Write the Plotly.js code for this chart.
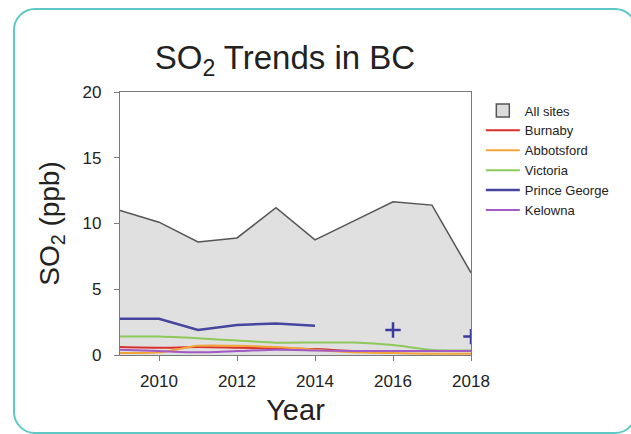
<!DOCTYPE html>
<html>
<head>
<meta charset="utf-8">
<script src="https://cdn.plot.ly/plotly-3.0.1.min.js"></script>
<style>
  html, body { margin: 0; padding: 0; background: #fff; }
  #wrap { position: relative; width: 631px; height: 434px; overflow: hidden; }
  #chart { position: absolute; left: 0; top: 0; width: 631px; height: 434px; }
  #frame { position: absolute; left: 13px; top: 8px; width: 620px; height: 422px;
           border: 2px solid #5ec8c5; border-radius: 22px; pointer-events: none; }
</style>
</head>
<body>
<div id="wrap">
  <div id="chart"></div>
  <div id="frame"></div>
</div>
<script>
const years = [2009, 2010, 2011, 2012, 2013, 2014, 2015, 2016, 2017, 2018];
const allSites = [11.0, 10.1, 8.6, 8.9, 11.2, 8.75, 10.2, 11.65, 11.4, 6.25];
const burnaby = [0.6, 0.55, 0.6, 0.55, 0.5, 0.45, 0.3, 0.3, 0.3, 0.3];
const abbotsford = [0.15, 0.2, 0.7, 0.7, 0.6, 0.4, 0.2, 0.15, 0.1, 0.1];
const victoria = [1.4, 1.4, 1.27, 1.1, 0.94, 0.95, 0.95, 0.76, 0.38, 0.35];
const princeGeorge = [2.76, 2.76, 1.9, 2.28, 2.4, 2.23, null, 1.9, null, 1.4];
const kelowna = [0.4, 0.3, 0.2, 0.3, 0.4, 0.35, 0.3, 0.3, 0.3, 0.3];
const xTicks = [2010, 2012, 2014, 2016, 2018];
const yTicks = [0, 5, 10, 15, 20];

// isolated Prince George points (no neighbours) are drawn as '+' markers
const pgIsoX = [], pgIsoY = [];
princeGeorge.forEach((v, i) => {
  if (v === null) return;
  const prev = i > 0 ? princeGeorge[i - 1] : null;
  const next = i < princeGeorge.length - 1 ? princeGeorge[i + 1] : null;
  if (prev === null && next === null) { pgIsoX.push(years[i]); pgIsoY.push(v); }
});

const line = (name, y, color, w, shape) => ({
  x: years, y: y, name: name, type: 'scatter', mode: 'lines',
  line: shape === 'linear' ? { color: color, width: w || 2 }
                           : { color: color, width: w || 2, shape: 'spline', smoothing: 0.6 },
  connectgaps: false, hoverinfo: 'x+y+name'
});

const FONT = 'Liberation Sans, Arial, Helvetica, sans-serif';

const traces = [
  { x: years, y: allSites, type: 'scatter', mode: 'lines', fill: 'tozeroy',
    fillcolor: '#e0e0e0', line: { color: '#555555', width: 1.5 }, showlegend: false, name: 'All sites' },
  { x: [null], y: [null], type: 'scatter', mode: 'markers', name: 'All sites',
    marker: { symbol: 'square', size: 13, color: '#dcdcdc', line: { color: '#555', width: 1.5 } } },
  line('Burnaby', burnaby, '#d9302c'),
  line('Abbotsford', abbotsford, '#f2a43a'),
  line('Victoria', victoria, '#8cc85a'),
  line('Prince George', princeGeorge, '#46469e', 2.5, 'linear'),
  line('Kelowna', kelowna, '#a25bc4'),
  { x: pgIsoX, y: pgIsoY, type: 'scatter', mode: 'markers', showlegend: false, name: 'Prince George',
    marker: { symbol: 'cross-thin', size: 11, line: { color: '#3a3aa0', width: 2.5 } } }
];

const axisCommon = {
  showgrid: false, zeroline: false, showline: true, mirror: true,
  linecolor: '#7a7a7a', linewidth: 1.2, ticks: 'outside', ticklen: 5,
  tickcolor: '#7a7a7a', tickfont: { family: FONT, size: 17, color: '#222' }
};

const layout = {
  width: 631, height: 434,
  margin: { l: 120, r: 160, t: 92, b: 79 },
  paper_bgcolor: 'rgba(0,0,0,0)', plot_bgcolor: '#ffffff',
  title: { text: 'SO<sub>2</sub> Trends in BC', x: 0.47, xref: 'paper', xanchor: 'center',
           y: 0.868, yanchor: 'middle',
           font: { family: FONT, size: 33, color: '#222' } },
  xaxis: Object.assign({}, axisCommon, {
    range: [2009, 2018], tickvals: xTicks, ticktext: xTicks.map(String), ticklabelstandoff: 5,
    title: { text: 'Year', standoff: 10, font: { family: FONT, size: 29, color: '#222' } }
  }),
  yaxis: Object.assign({}, axisCommon, {
    range: [0, 20], tickvals: yTicks, ticktext: yTicks.map(String), ticklabelstandoff: 9,
    title: { text: 'SO<sub>2</sub> (ppb)', standoff: 14, font: { family: FONT, size: 28, color: '#222' } }
  }),
  legend: { xref: 'container', yref: 'container', x: 0.762, y: 0.78,
            xanchor: 'left', yanchor: 'top', bgcolor: 'rgba(0,0,0,0)',
            font: { family: FONT, size: 13, color: '#222' },
            itemwidth: 34, tracegroupgap: 0 },
  showlegend: true
};

Plotly.newPlot('chart', traces, layout, { staticPlot: true, displayModeBar: false });
</script>
</body>
</html>
